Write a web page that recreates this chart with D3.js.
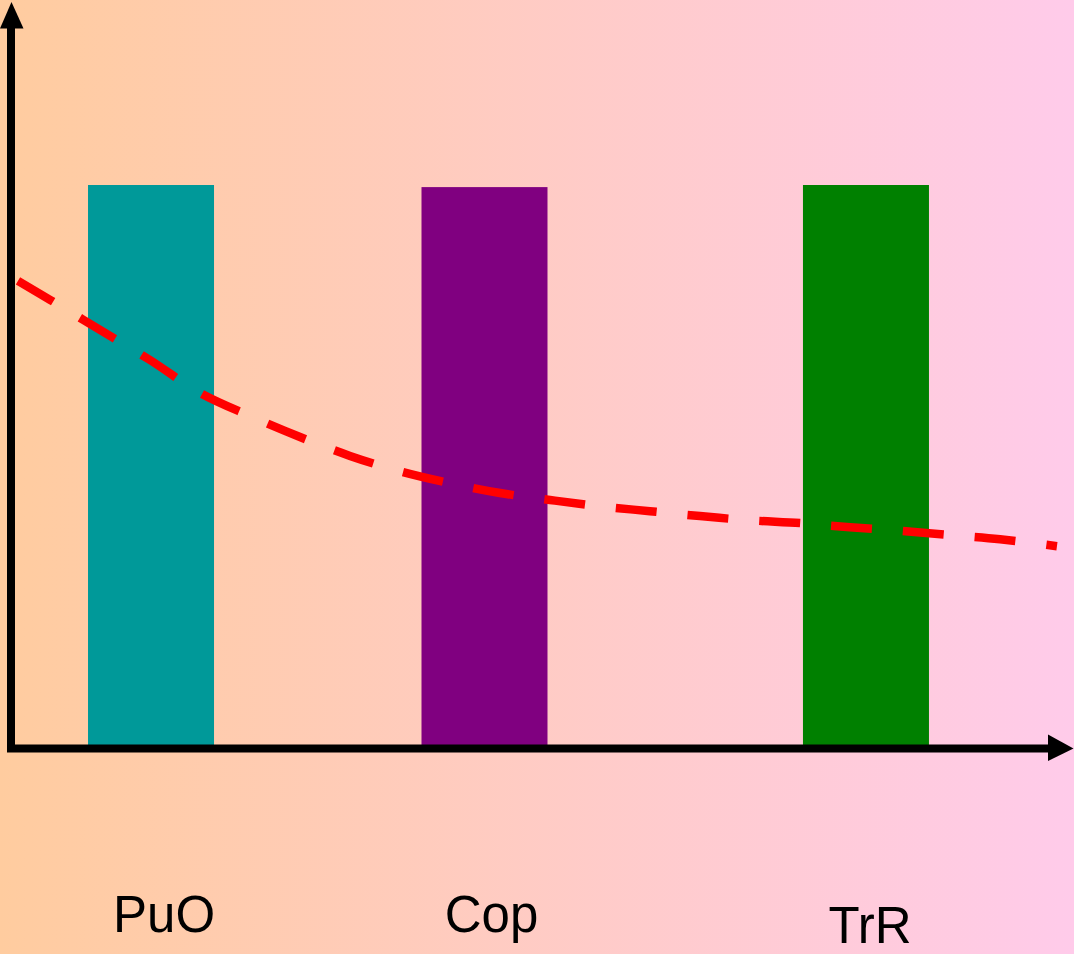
<!DOCTYPE html>
<html>
<head>
<meta charset="utf-8">
<script src="https://cdn.jsdelivr.net/npm/d3@7"></script>
<style>
  html, body { margin: 0; padding: 0; overflow: hidden; background: #fff; }
  svg { display: block; }
</style>
</head>
<body>
<svg id="chart" width="1074" height="954"></svg>
<script>
// ---- data ----
const categories = ["PuO", "Cop", "TrR"];
const barPositions = [13.43, 45.19, 81.52];   // x position of bar centres (x units)
const barValues = [80.0, 79.7, 80.0];
const barColors = ["#009999", "#800080", "#008000"];
const labelPositions = [14.67, 45.86, 81.9];

const curveX = [0.76, 3.81, 8.57, 13.33, 18.10, 22.86, 27.62, 32.38, 37.14, 41.90, 46.67,
                51.43, 56.19, 60.95, 65.71, 70.48, 75.24, 80.0, 84.76, 89.52, 94.29, 99.71];
const curveY = [66.3, 63.6, 59.3, 55.0, 50.3, 47.0, 44.0, 41.3, 39.1, 37.4, 36.0,
                35.0, 34.1, 33.4, 32.7, 32.1, 31.7, 31.1, 30.6, 30.0, 29.4, 28.4];

// ---- layout ----
const W = 1074, H = 954;
const svg = d3.select("#chart");

const x = d3.scaleLinear().domain([0, 100]).range([10, 1060]);
const y = d3.scaleLinear().domain([0, 100]).range([745, 45]);
const barWidthUnits = 12;

// background gradient
const defs = svg.append("defs");
const grad = defs.append("linearGradient").attr("id", "bg")
  .attr("x1", "0%").attr("x2", "100%").attr("y1", "0%").attr("y2", "0%");
grad.append("stop").attr("offset", "0%").attr("stop-color", "#FFCC9F");
grad.append("stop").attr("offset", "100%").attr("stop-color", "#FFCBEA");
svg.append("rect").attr("width", W).attr("height", H).attr("fill", "url(#bg)");

// bars
svg.append("g").selectAll("rect").data(categories).join("rect")
  .attr("x", (d, i) => x(barPositions[i] - barWidthUnits / 2))
  .attr("width", (d, i) => x(barWidthUnits) - x(0))
  .attr("y", (d, i) => y(barValues[i]))
  .attr("height", (d, i) => y(0) - y(barValues[i]))
  .attr("fill", (d, i) => barColors[i]);

// dashed curve
const pts = curveX.map((v, i) => [v, curveY[i]]);
const line = d3.line().x(d => x(d[0])).y(d => y(d[1])).curve(d3.curveCatmullRom.alpha(0.5));
svg.append("path").attr("d", line(pts))
  .attr("fill", "none").attr("stroke", "#FF0000")
  .attr("stroke-width", 8.5).attr("stroke-dasharray", "41,31");

// axes (no ticks)
const yAxisScale = d3.scaleLinear().domain([y.invert(749), y.invert(27)]).range([749, 27]);
const xAxisScale = d3.scaleLinear().domain([x.invert(7), x.invert(1050)]).range([7, 1050]);

const gy = svg.append("g").attr("transform", "translate(11,0)")
  .call(d3.axisLeft(yAxisScale).tickValues([]).tickSizeOuter(0));
gy.select(".domain").attr("stroke", "#000").attr("stroke-width", 8).attr("d", "M0,749V27");

const gx = svg.append("g").attr("transform", "translate(0,748.5)")
  .call(d3.axisBottom(xAxisScale).tickValues([]).tickSizeOuter(0));
gx.select(".domain").attr("stroke", "#000").attr("stroke-width", 8).attr("d", "M7,0H1050");

// arrowheads
svg.append("path").attr("d", "M11.5,2L0,28.5L23.5,28.5Z").attr("fill", "#000");
svg.append("path").attr("d", "M1073.5,748.5L1048,734.5L1048,761Z").attr("fill", "#000");

// category labels
const labelBaselines = [932, 932, 943];
svg.append("g").selectAll("text").data(categories).join("text")
  .attr("x", (d, i) => x(labelPositions[i]))
  .attr("y", (d, i) => labelBaselines[i])
  .attr("text-anchor", "middle")
  .attr("font-family", "Liberation Sans, Arial, sans-serif")
  .attr("font-size", 51)
  .attr("fill", "#000")
  .text(d => d);
</script>
</body>
</html>
